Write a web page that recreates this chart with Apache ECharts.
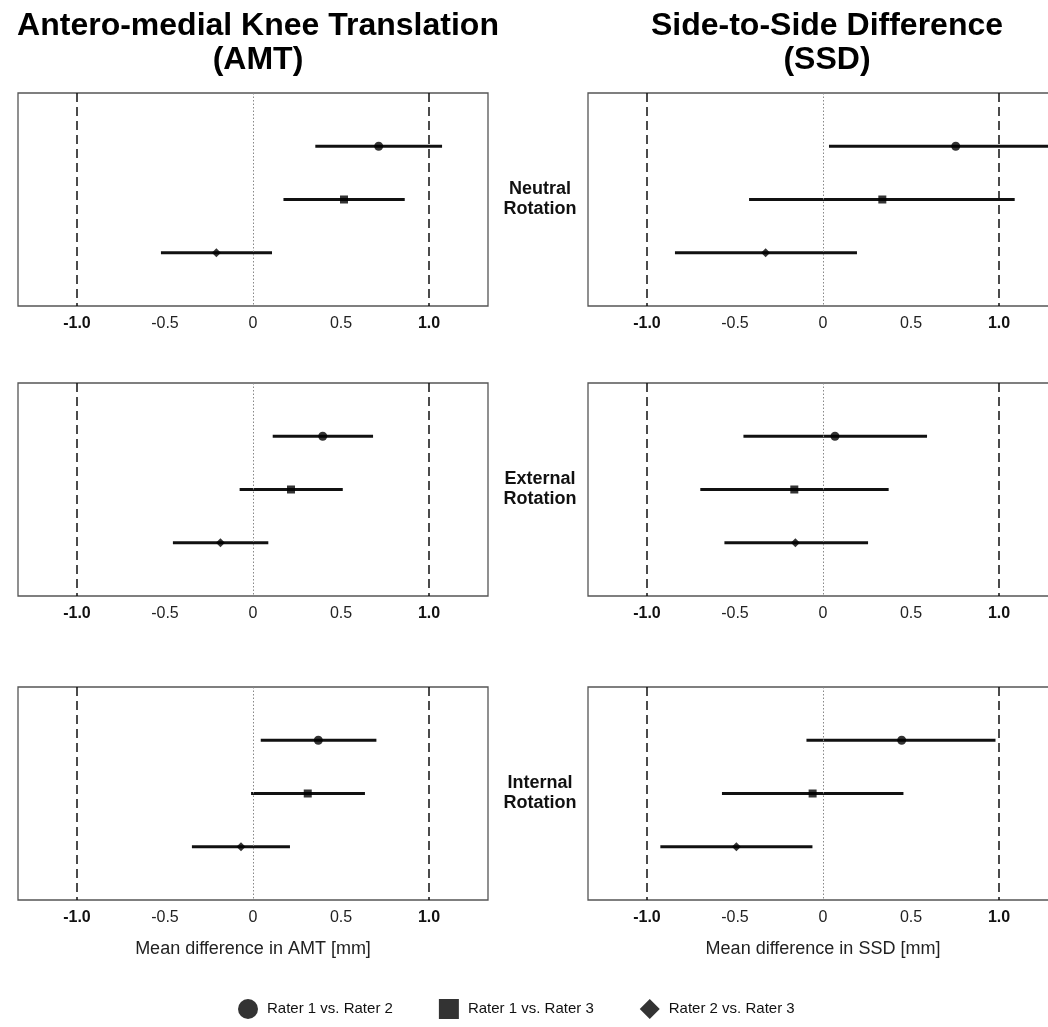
<!DOCTYPE html>
<html>
<head>
<meta charset="utf-8">
<script src="https://cdn.jsdelivr.net/npm/echarts@6/dist/echarts.min.js"></script>
<style>html,body{margin:0;padding:0;background:#fff;overflow:hidden}#c{width:1072px;height:1027px}</style>
</head>
<body>
<div id="c"></div>
<script>
// ---------- data ----------
const comparisons = ['Rater 1 vs. Rater 2', 'Rater 1 vs. Rater 3', 'Rater 2 vs. Rater 3'];
const markerShapes = ['circle', 'rect', 'diamond'];
const rotations = ['Neutral\nRotation', 'External\nRotation', 'Internal\nRotation'];
const measureTitles = ['Antero-medial Knee Translation\n(AMT)', 'Side-to-Side Difference\n(SSD)'];
const axisNames = ['Mean difference in AMT [mm]', 'Mean difference in SSD [mm]'];
const xTicks = [-1, -0.5, 0, 0.5, 1];
const refDashed = [-1, 1];
const refDotted = [0];

// AMT
const amtNeutralMean = [0.714, 0.517, -0.208];
const amtNeutralLow  = [0.354, 0.173, -0.523];
const amtNeutralHigh = [1.074, 0.862, 0.108];
const amtExternalMean = [0.396, 0.216, -0.185];
const amtExternalLow  = [0.112, -0.076, -0.455];
const amtExternalHigh = [0.682, 0.510, 0.087];
const amtInternalMean = [0.371, 0.311, -0.068];
const amtInternalLow  = [0.044, -0.011, -0.347];
const amtInternalHigh = [0.701, 0.636, 0.210];
// SSD
const ssdNeutralMean = [0.754, 0.337, -0.326];
const ssdNeutralLow  = [0.034, -0.420, -0.841];
const ssdNeutralHigh = [1.470, 1.089, 0.193];
const ssdExternalMean = [0.068, -0.163, -0.157];
const ssdExternalLow  = [-0.452, -0.697, -0.560];
const ssdExternalHigh = [0.591, 0.373, 0.256];
const ssdInternalMean = [0.447, -0.059, -0.492];
const ssdInternalLow  = [-0.094, -0.574, -0.924];
const ssdInternalHigh = [0.980, 0.457, -0.060];

const panels = [
  [ {m: amtNeutralMean, l: amtNeutralLow, h: amtNeutralHigh},
    {m: amtExternalMean, l: amtExternalLow, h: amtExternalHigh},
    {m: amtInternalMean, l: amtInternalLow, h: amtInternalHigh} ],
  [ {m: ssdNeutralMean, l: ssdNeutralLow, h: ssdNeutralHigh},
    {m: ssdExternalMean, l: ssdExternalLow, h: ssdExternalHigh},
    {m: ssdInternalMean, l: ssdInternalLow, h: ssdInternalHigh} ]
];

// ---------- layout ----------
const FONT = '"Liberation Sans", Arial, Helvetica, sans-serif';
const colLeft = [18, 588];
const colWidth = 470;
const rowTop = [93, 383, 687];
const rowHeight = 213;
const XMIN = -1.335, XMAX = 1.335;

const grids = [], xAxes = [], yAxes = [], series = [];
let gi = 0;
for (let c = 0; c < 2; c++) {
  for (let r = 0; r < 3; r++) {
    grids.push({left: colLeft[c], top: rowTop[r], width: colWidth, height: rowHeight,
      show: true, borderColor: '#555', borderWidth: 1.3, backgroundColor: '#fff'});
    xAxes.push({
      type: 'value', gridIndex: gi, min: XMIN, max: XMAX,
      splitLine: {show: false}, axisLine: {show: false}, axisTick: {show: false},
      axisLabel: {
        customValues: xTicks, margin: 10, fontFamily: FONT, fontSize: 16, color: '#222',
        formatter: v => {
          if (Math.abs(Math.abs(v) - 1) < 1e-9) return '{b|' + v.toFixed(1) + '}';
          if (Math.abs(v) < 1e-9) return '{n|0}';
          return '{n|' + v.toFixed(1) + '}';
        },
        rich: {b: {fontWeight: 'bold', fontSize: 16, fontFamily: FONT, color: '#111'},
               n: {fontSize: 16, fontFamily: FONT, color: '#222'}}
      },
      name: r === 2 ? axisNames[c] : '', nameLocation: 'middle', nameGap: 40,
      nameTextStyle: {fontFamily: FONT, fontSize: 18, color: '#222'}
    });
    yAxes.push({type: 'value', gridIndex: gi, min: 0, max: 4, inverse: true, show: false,
      splitLine: {show: false}});

    // reference lines
    series.push({
      type: 'line', xAxisIndex: gi, yAxisIndex: gi, data: [], z: 1, silent: true,
      markLine: {
        silent: true, symbol: 'none', label: {show: false}, animation: false,
        data: refDashed.map(v => ({xAxis: v, lineStyle: {color: '#111', width: 1.5, type: [9, 5]}}))
          .concat(refDotted.map(v => ({xAxis: v, lineStyle: {color: '#888', width: 1, type: [1.5, 2]}})))
      }
    });
    // error bars
    const p = panels[c][r];
    series.push({
      type: 'custom', xAxisIndex: gi, yAxisIndex: gi, z: 2, silent: true, clip: true,
      encode: {x: [0, 1], y: 2},
      data: p.m.map((_, k) => [p.l[k], p.h[k], k + 1]),
      renderItem: (params, api) => {
        const y = api.value(2);
        const a = api.coord([api.value(0), y]);
        const b = api.coord([api.value(1), y]);
        return {type: 'line', shape: {x1: a[0], y1: a[1], x2: b[0], y2: b[1]},
                style: {stroke: '#111', lineWidth: 3}};
      }
    });
    // markers
    for (let k = 0; k < 3; k++) {
      series.push({
        type: 'scatter', name: comparisons[k], xAxisIndex: gi, yAxisIndex: gi, z: 3,
        symbol: markerShapes[k], symbolSize: k === 1 ? 8 : 9,
        itemStyle: {color: '#000'},
        data: [[p.m[k], k + 1]]
      });
    }
    gi++;
  }
}

const titles = [
  {text: measureTitles[0], left: 253, top: 4, textAlign: 'center'},
  {text: measureTitles[1], left: 822, top: 4, textAlign: 'center'}
].map(t => Object.assign(t, {textStyle: {fontFamily: FONT, fontSize: 32, fontWeight: 'bold', color: '#000', lineHeight: 34}}));
const rowCenters = rowTop.map(t => t + rowHeight / 2);
rotations.forEach((txt, i) => {
  titles.push({text: txt, left: 535, top: rowCenters[i] - 25, textAlign: 'center',
    textStyle: {fontFamily: FONT, fontSize: 18, fontWeight: 'bold', color: '#111', lineHeight: 20}});
});

const option = {
  backgroundColor: '#fff',
  animation: false,
  title: titles,
  grid: grids,
  xAxis: xAxes,
  yAxis: yAxes,
  legend: {
    bottom: 3, left: 233,
    data: comparisons.map((n, k) => ({name: n, icon: markerShapes[k]})),
    itemWidth: 20, itemHeight: 20, itemGap: 46, selectedMode: false,
    textStyle: {fontFamily: FONT, fontSize: 15, color: '#111', padding: [0, 0, 0, 4]},
    itemStyle: {color: '#000'}
  },
  series: series
};
echarts.init(document.getElementById('c'), null, {renderer: 'canvas'}).setOption(option);
</script>
</body>
</html>
